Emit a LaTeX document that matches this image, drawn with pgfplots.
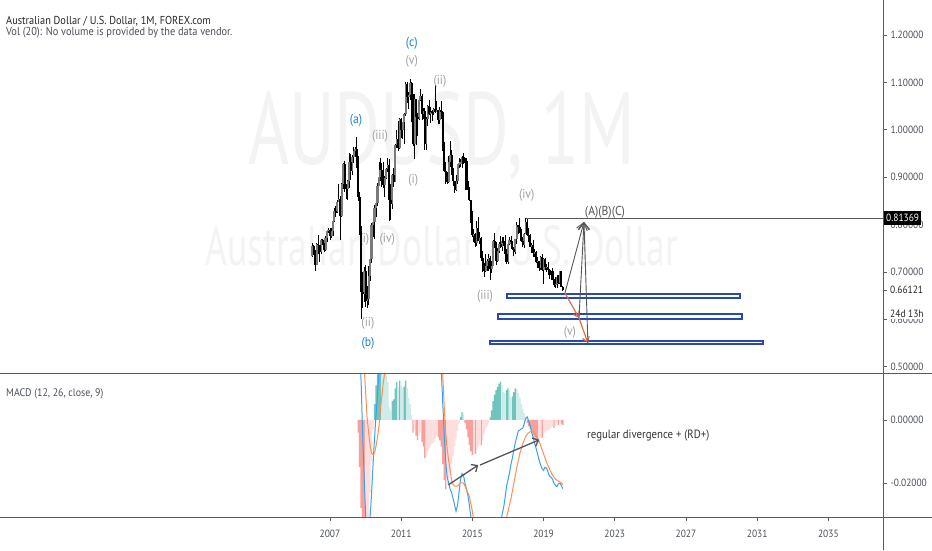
\documentclass[border=0pt]{standalone}
\usepackage{fontspec}
\setmainfont{PT Sans}[FakeStretch=0.9]
\usepackage{graphicx}
\usepackage{pgfplots}
\pgfplotsset{compat=1.18}
\usepackage{pgfplotstable}
\usetikzlibrary{arrows.meta}

\definecolor{tvline}{HTML}{5A5A5A}
\definecolor{tvtext}{HTML}{4A4F5A}
\definecolor{wm}{HTML}{F3F3F3}
\definecolor{wblue}{HTML}{1E7FCB}
\definecolor{wgrey}{HTML}{A0A0A0}
\definecolor{candup}{HTML}{7A7A7A}
\definecolor{boxb}{HTML}{2749B8}
\definecolor{arrg}{HTML}{555555}
\definecolor{arro}{HTML}{DC6E48}
\definecolor{hgup}{HTML}{6FC5BE}
\definecolor{hgupl}{HTML}{CFECE9}
\definecolor{hgdn}{HTML}{F5A09A}
\definecolor{hgdnl}{HTML}{FDDEDE}
\definecolor{macdc}{HTML}{3DA0EE}
\definecolor{sigc}{HTML}{FF8F50}

% monthly candles: time, open, high, low, close
\pgfplotstableread{
t o h l c
2006.000 0.7330 0.7620 0.7320 0.7555
2006.083 0.7555 0.7560 0.7350 0.7400
2006.167 0.7400 0.7470 0.7020 0.7155
2006.250 0.7155 0.7620 0.7150 0.7600
2006.333 0.7600 0.7790 0.7390 0.7565
2006.417 0.7565 0.7570 0.7220 0.7420
2006.500 0.7420 0.7690 0.7370 0.7665
2006.583 0.7665 0.7700 0.7560 0.7620
2006.667 0.7620 0.7690 0.7430 0.7460
2006.750 0.7460 0.7750 0.7440 0.7720
2006.833 0.7720 0.7895 0.7625 0.7870
2006.917 0.7870 0.7935 0.7830 0.7890
2007.000 0.7890 0.7920 0.7675 0.7750
2007.083 0.7750 0.7920 0.7710 0.7875
2007.167 0.7875 0.8110 0.7750 0.8080
2007.250 0.8080 0.8340 0.8060 0.8280
2007.333 0.8280 0.8390 0.8150 0.8260
2007.417 0.8260 0.8520 0.8240 0.8485
2007.500 0.8485 0.8860 0.8470 0.8540
2007.583 0.8540 0.8600 0.7680 0.8190
2007.667 0.8190 0.8880 0.8170 0.8860
2007.750 0.8860 0.9300 0.8750 0.9280
2007.833 0.9280 0.9350 0.8680 0.8820
2007.917 0.8820 0.8860 0.8530 0.8760
2008.000 0.8760 0.8950 0.8520 0.8930
2008.083 0.8930 0.9500 0.8780 0.9330
2008.167 0.9330 0.9480 0.8940 0.9130
2008.250 0.9130 0.9470 0.9040 0.9420
2008.333 0.9420 0.9640 0.9300 0.9560
2008.417 0.9560 0.9640 0.9430 0.9600
2008.500 0.9600 0.9850 0.9200 0.9400
2008.583 0.9400 0.9440 0.8500 0.8580
2008.667 0.8580 0.8690 0.7770 0.7900
2008.750 0.7900 0.7970 0.6010 0.6570
2008.833 0.6570 0.7010 0.6250 0.6530
2008.917 0.6530 0.7100 0.6370 0.7030
2009.000 0.7030 0.7150 0.6260 0.6380
2009.083 0.6380 0.6700 0.6250 0.6420
2009.167 0.6420 0.7130 0.6300 0.6920
2009.250 0.6920 0.7390 0.6820 0.7270
2009.333 0.7270 0.8030 0.7200 0.8000
2009.417 0.8000 0.8160 0.7740 0.8050
2009.500 0.8050 0.8410 0.7700 0.8350
2009.583 0.8350 0.8500 0.8160 0.8450
2009.667 0.8450 0.8870 0.8390 0.8820
2009.750 0.8820 0.9330 0.8810 0.9000
2009.833 0.9000 0.9400 0.8910 0.9150
2009.917 0.9150 0.9300 0.8800 0.8980
2010.000 0.8980 0.9330 0.8780 0.8840
2010.083 0.8840 0.9030 0.8580 0.8980
2010.167 0.8980 0.9200 0.8960 0.9170
2010.250 0.9170 0.9400 0.9110 0.9250
2010.333 0.9250 0.9380 0.8070 0.8510
2010.417 0.8510 0.8860 0.8090 0.8430
2010.500 0.8430 0.9060 0.8320 0.9050
2010.583 0.9050 0.9200 0.8790 0.8900
2010.667 0.8900 0.9710 0.8890 0.9670
2010.750 0.9670 1.0000 0.9620 0.9800
2010.833 0.9800 1.0180 0.9550 0.9620
2010.917 0.9620 1.0250 0.9600 1.0220
2011.000 1.0220 1.0250 0.9820 0.9990
2011.083 0.9990 1.0160 0.9800 1.0160
2011.167 1.0160 1.0350 0.9710 1.0340
2011.250 1.0340 1.1010 1.0290 1.0970
2011.333 1.0970 1.1010 1.0560 1.0700
2011.417 1.0700 1.0790 1.0430 1.0730
2011.500 1.0730 1.1080 1.0620 1.0990
2011.583 1.0990 1.1000 1.0160 1.0700
2011.667 1.0700 1.0760 0.9660 0.9700
2011.750 0.9700 1.0750 0.9390 1.0650
2011.833 1.0650 1.0650 0.9670 1.0260
2011.917 1.0260 1.0350 0.9860 1.0220
2012.000 1.0220 1.0720 1.0200 1.0620
2012.083 1.0620 1.0850 1.0600 1.0720
2012.167 1.0720 1.0750 1.0200 1.0340
2012.250 1.0340 1.0450 1.0230 1.0400
2012.333 1.0400 1.0450 0.9580 0.9690
2012.417 0.9690 1.0270 0.9580 1.0230
2012.500 1.0230 1.0520 1.0080 1.0510
2012.583 1.0510 1.0620 1.0310 1.0330
2012.667 1.0330 1.0480 1.0150 1.0380
2012.750 1.0380 1.0420 1.0180 1.0370
2012.833 1.0370 1.0470 1.0320 1.0430
2012.917 1.0430 1.0950 1.0350 1.0380
2013.000 1.0380 1.0600 1.0370 1.0420
2013.083 1.0420 1.0420 1.0120 1.0210
2013.167 1.0210 1.0490 1.0120 1.0410
2013.250 1.0410 1.0600 1.0220 1.0370
2013.333 1.0370 1.0400 0.9550 0.9570
2013.417 0.9570 0.9740 0.9110 0.9140
2013.500 0.9140 0.9310 0.8850 0.8990
2013.583 0.8990 0.9110 0.8850 0.8900
2013.667 0.8900 0.9450 0.8870 0.9320
2013.750 0.9320 0.9760 0.9210 0.9460
2013.833 0.9460 0.9580 0.9050 0.9110
2013.917 0.9110 0.9190 0.8820 0.8920
2014.000 0.8920 0.8930 0.8660 0.8740
2014.083 0.8740 0.9040 0.8700 0.8920
2014.167 0.8920 0.9280 0.8850 0.9270
2014.250 0.9270 0.9400 0.9200 0.9280
2014.333 0.9280 0.9380 0.9210 0.9310
2014.417 0.9310 0.9440 0.9200 0.9430
2014.500 0.9430 0.9500 0.9280 0.9290
2014.583 0.9290 0.9400 0.9240 0.9340
2014.667 0.9340 0.9400 0.8720 0.8740
2014.750 0.8740 0.8910 0.8640 0.8800
2014.833 0.8800 0.8800 0.8500 0.8510
2014.917 0.8510 0.8520 0.8040 0.8180
2015.000 0.8180 0.8290 0.7730 0.7770
2015.083 0.7770 0.7910 0.7630 0.7810
2015.167 0.7810 0.7830 0.7530 0.7620
2015.250 0.7620 0.8070 0.7540 0.7920
2015.333 0.7920 0.8160 0.7650 0.7660
2015.417 0.7660 0.7850 0.7600 0.7710
2015.500 0.7710 0.7740 0.7230 0.7300
2015.583 0.7300 0.7440 0.7000 0.7110
2015.667 0.7110 0.7180 0.6900 0.7020
2015.750 0.7020 0.7380 0.6990 0.7130
2015.833 0.7130 0.7280 0.7020 0.7230
2015.917 0.7230 0.7380 0.7020 0.7290
2016.000 0.7290 0.7330 0.6830 0.7070
2016.083 0.7070 0.7240 0.6970 0.7130
2016.167 0.7130 0.7680 0.7130 0.7660
2016.250 0.7660 0.7830 0.7500 0.7600
2016.333 0.7600 0.7640 0.7140 0.7230
2016.417 0.7230 0.7500 0.7210 0.7450
2016.500 0.7450 0.7640 0.7410 0.7600
2016.583 0.7600 0.7760 0.7510 0.7520
2016.667 0.7520 0.7730 0.7440 0.7650
2016.750 0.7650 0.7730 0.7550 0.7610
2016.833 0.7610 0.7780 0.7380 0.7390
2016.917 0.7390 0.7480 0.7160 0.7220
2017.000 0.7220 0.7600 0.7160 0.7580
2017.083 0.7580 0.7740 0.7560 0.7670
2017.167 0.7670 0.7750 0.7490 0.7630
2017.250 0.7630 0.7660 0.7470 0.7480
2017.333 0.7480 0.7520 0.7330 0.7430
2017.417 0.7430 0.7700 0.7370 0.7690
2017.500 0.7690 0.8060 0.7600 0.7990
2017.583 0.7990 0.8000 0.7810 0.7940
2017.667 0.7940 0.8130 0.7830 0.7840
2017.750 0.7840 0.7900 0.7630 0.7650
2017.833 0.7650 0.7730 0.7530 0.7560
2017.917 0.7560 0.7820 0.7500 0.7810
2018.000 0.7810 0.8136 0.7800 0.8060
2018.083 0.8060 0.8130 0.7760 0.7770
2018.167 0.7770 0.7920 0.7640 0.7680
2018.250 0.7680 0.7810 0.7520 0.7530
2018.333 0.7530 0.7610 0.7410 0.7560
2018.417 0.7560 0.7680 0.7310 0.7400
2018.500 0.7400 0.7480 0.7320 0.7420
2018.583 0.7420 0.7450 0.7200 0.7220
2018.667 0.7220 0.7310 0.7080 0.7230
2018.750 0.7230 0.7240 0.7020 0.7080
2018.833 0.7080 0.7340 0.7050 0.7310
2018.917 0.7310 0.7390 0.7020 0.7050
2019.000 0.7050 0.7300 0.6740 0.7270
2019.083 0.7270 0.7300 0.7050 0.7100
2019.167 0.7100 0.7170 0.7000 0.7100
2019.250 0.7100 0.7210 0.7030 0.7050
2019.333 0.7050 0.7070 0.6860 0.6940
2019.417 0.6940 0.7030 0.6830 0.7020
2019.500 0.7020 0.7080 0.6830 0.6840
2019.583 0.6840 0.6860 0.6680 0.6730
2019.667 0.6730 0.6890 0.6670 0.6750
2019.750 0.6750 0.6930 0.6670 0.6890
2019.833 0.6890 0.6930 0.6750 0.6760
2019.917 0.6760 0.7030 0.6750 0.7020
2020.000 0.7020 0.7030 0.6680 0.6690
2020.083 0.6690 0.6700 0.6590 0.6612
}\candles

% MACD histogram: time, value, colour class (1 up, 2 up fading, 3 down, 4 down fading)
\pgfplotstableread{
t h k
2008.583 -0.0040 3
2008.667 -0.0150 3
2008.750 -0.0280 3
2008.833 -0.0380 3
2008.917 -0.0420 3
2009.000 -0.0400 4
2009.083 -0.0360 4
2009.167 -0.0310 4
2009.250 -0.0230 4
2009.333 -0.0130 4
2009.417 -0.0030 4
2009.500 0.0050 1
2009.583 0.0110 1
2009.667 0.0160 1
2009.750 0.0200 1
2009.833 0.0220 1
2009.917 0.0210 2
2010.000 0.0200 2
2010.083 0.0180 2
2010.167 0.0160 2
2010.250 0.0120 2
2010.333 0.0040 2
2010.417 0.0030 2
2010.500 0.0060 1
2010.583 0.0065 1
2010.667 0.0100 1
2010.750 0.0120 1
2010.833 0.0105 2
2010.917 0.0125 1
2011.000 0.0110 2
2011.083 0.0100 2
2011.167 0.0105 1
2011.250 0.0125 1
2011.333 0.0100 2
2011.417 0.0070 2
2011.500 0.0050 2
2011.583 0.0015 2
2011.667 -0.0040 3
2011.750 -0.0030 4
2011.833 -0.0050 3
2011.917 -0.0063 3
2012.000 -0.0050 4
2012.083 -0.0040 4
2012.167 -0.0070 3
2012.250 -0.0085 3
2012.333 -0.0120 3
2012.417 -0.0115 4
2012.500 -0.0100 4
2012.583 -0.0090 4
2012.667 -0.0080 4
2012.750 -0.0075 4
2012.833 -0.0070 4
2012.917 -0.0060 4
2013.000 -0.0050 4
2013.083 -0.0055 3
2013.167 -0.0065 3
2013.250 -0.0085 3
2013.333 -0.0140 3
2013.417 -0.0190 3
2013.500 -0.0220 3
2013.583 -0.0205 4
2013.667 -0.0185 4
2013.750 -0.0165 4
2013.833 -0.0140 4
2013.917 -0.0115 4
2014.000 -0.0085 4
2014.083 -0.0060 4
2014.167 -0.0035 4
2014.250 -0.0012 4
2014.333 0.0010 1
2014.417 0.0025 1
2014.500 0.0020 2
2014.583 -0.0010 3
2014.667 -0.0030 3
2014.750 -0.0055 3
2014.833 -0.0080 3
2014.917 -0.0100 3
2015.000 -0.0112 3
2015.083 -0.0105 4
2015.167 -0.0108 3
2015.250 -0.0095 4
2015.333 -0.0085 4
2015.417 -0.0075 4
2015.500 -0.0080 3
2015.583 -0.0065 4
2015.667 -0.0045 4
2015.750 -0.0030 4
2015.833 -0.0020 4
2015.917 -0.0010 4
2016.000 0.0008 1
2016.083 0.0030 1
2016.167 0.0060 1
2016.250 0.0080 1
2016.333 0.0095 1
2016.417 0.0105 1
2016.500 0.0115 1
2016.583 0.0122 1
2016.667 0.0110 2
2016.750 0.0088 2
2016.833 0.0085 2
2016.917 0.0095 1
2017.000 0.0100 1
2017.083 0.0092 2
2017.167 0.0072 2
2017.250 0.0075 1
2017.333 0.0088 1
2017.417 0.0100 1
2017.500 0.0098 2
2017.583 0.0085 2
2017.667 0.0070 2
2017.750 0.0050 2
2017.833 0.0035 2
2017.917 0.0022 2
2018.000 0.0010 2
2018.083 -0.0010 3
2018.167 -0.0020 3
2018.250 -0.0030 3
2018.333 -0.0040 3
2018.417 -0.0048 3
2018.500 -0.0055 3
2018.583 -0.0060 3
2018.667 -0.0065 3
2018.750 -0.0060 4
2018.833 -0.0052 4
2018.917 -0.0056 3
2019.000 -0.0045 4
2019.083 -0.0040 4
2019.167 -0.0035 4
2019.250 -0.0032 4
2019.333 -0.0030 4
2019.417 -0.0025 4
2019.500 -0.0020 4
2019.583 -0.0025 3
2019.667 -0.0020 4
2019.750 -0.0012 4
2019.833 -0.0016 3
2019.917 -0.0010 4
2020.000 -0.0012 3
2020.083 -0.0016 3
}\hist

\pgfplotsset{
  tvaxis/.style={
    scale only axis, width=883pt,
    xmin=1988.46, xmax=2038.07,
    axis y line*=right,
    tick align=outside, major tick length=4pt,
    tick style={draw=tvline, line width=0.6pt},
    axis line style={draw=tvline, line width=0.8pt},
    ticklabel style={font=\fontsize{10.5}{12}\selectfont, text=tvtext},
    yticklabel style={anchor=west},
    scaled y ticks=false,
    unbounded coords=discard,
  },
}
\tikzset{wave/.style={font=\fontsize{13}{15}\selectfont, inner sep=0pt}}

\begin{document}
\begin{tikzpicture}[x=1pt,y=1pt]
\fill[white] (0,0) rectangle (932,550);
\path[use as bounding box] (0,0) rectangle (932,550);

% watermark
\node[anchor=base west, inner sep=0pt, text=wm] at (248,385)
  {\resizebox{387pt}{73pt}{AUDUSD, 1M}};
\node[anchor=base west, inner sep=0pt, text=wm] at (205,284)
  {\resizebox{473pt}{40pt}{Australian Dollar / U.S. Dollar}};

% price pane
\begin{axis}[tvaxis,
    at={(0pt,177pt)}, anchor=south west, height=373pt,
    ymin=0.4869, ymax=1.2738,
    axis x line=none,
    ytick={0.5,0.6,0.7,0.8,0.9,1.0,1.1,1.2},
    yticklabels={0.50000,0.60000,0.70000,0.80000,0.90000,1.00000,1.10000,1.20000},
  ]
  \node[wave, text=wgrey] at (axis cs:2008.93,0.769) {(i)};

  % wicks
  \addplot[draw=none, error bars/.cd, y dir=both, y explicit, error mark=none,
    error bar style={draw=black, line width=0.85pt}]
    table[x=t, y expr={(\thisrow{h}+\thisrow{l})/2},
      y error expr={(\thisrow{h}-\thisrow{l})/2}] {\candles};
  % bodies, rising months
  \addplot[draw=none, error bars/.cd, y dir=both, y explicit, error mark=none,
    error bar style={draw=candup, line width=2.1pt}]
    table[x=t, y expr={\thisrow{c}>=\thisrow{o} ? (\thisrow{o}+\thisrow{c})/2 : nan},
      y error expr={max(abs(\thisrow{c}-\thisrow{o})/2,0.0014)}] {\candles};
  % bodies, falling months
  \addplot[draw=none, error bars/.cd, y dir=both, y explicit, error mark=none,
    error bar style={draw=black, line width=2.1pt}]
    table[x=t, y expr={\thisrow{c}<\thisrow{o} ? (\thisrow{o}+\thisrow{c})/2 : nan},
      y error expr={max(abs(\thisrow{c}-\thisrow{o})/2,0.0014)}] {\candles};

  % level from the (iv) top
  \addplot[tvline, line width=0.8pt] coordinates {(2018.0,0.81369) (2038.07,0.81369)};

  % target zones
  \addplot[boxb, line width=1.2pt, fill=white] coordinates
    {(2016.94,0.6451) (2030.03,0.6451) (2030.03,0.6536) (2016.94,0.6536)} --cycle;
  \addplot[boxb, line width=1.2pt, fill=white] coordinates
    {(2016.44,0.6009) (2030.15,0.6009) (2030.15,0.6114) (2016.44,0.6114)} --cycle;
  \addplot[boxb, line width=1.2pt, fill=white] coordinates
    {(2015.99,0.5481) (2031.33,0.5481) (2031.33,0.5544) (2015.99,0.5544)} --cycle;

  % projection arrows
  \addplot[arro, line width=1.2pt, -{Straight Barb[length=5pt,width=7pt]}]
    coordinates {(2020.20,0.6557) (2020.99,0.6030)};
  \addplot[arro, line width=1.2pt, -{Straight Barb[length=5pt,width=7pt]}]
    coordinates {(2020.99,0.6030) (2021.49,0.5502)};
  \addplot[arrg, line width=0.9pt, -{Straight Barb[length=7pt,width=11pt]}]
    coordinates {(2020.20,0.6557) (2021.27,0.8055)};
  \addplot[arrg, line width=0.9pt, -{Straight Barb[length=7pt,width=11pt]}]
    coordinates {(2020.99,0.6030) (2021.27,0.8055)};
  \addplot[arrg, line width=0.9pt, -{Straight Barb[length=7pt,width=11pt]}]
    coordinates {(2021.49,0.5502) (2021.27,0.8055)};

  % wave labels
  \node[wave, text=wblue] at (axis cs:2011.59,1.1825) {(c)};
  \node[wave, text=wgrey] at (axis cs:2011.59,1.1437) {(v)};
  \node[wave, text=wgrey] at (axis cs:2013.18,1.1015) {(ii)};
  \node[wave, text=wblue] at (axis cs:2008.46,1.0207) {(a)};
  \node[wave, text=wgrey] at (axis cs:2009.81,0.9855) {(iii)};
  \node[wave, text=wgrey] at (axis cs:2011.68,0.8940) {(i)};
  \node[wave, text=wgrey] at (axis cs:2018.05,0.8624) {(iv)};
  \node[wave, text=wgrey] at (axis cs:2010.22,0.7690) {(iv)};
  \node[wave, text=wgrey] at (axis cs:2009.13,0.5918) {(ii)};
  \node[wave, text=wblue] at (axis cs:2009.13,0.5496) {(b)};
  \node[wave, text=wgrey] at (axis cs:2015.71,0.6480) {(iii)};
  \node[wave, text=wgrey] at (axis cs:2020.48,0.5720) {(v)};
  \node[wave, text=arrg] at (axis cs:2022.45,0.8250) {(A)(B)(C)};
\end{axis}

% MACD pane
\begin{axis}[tvaxis,
    at={(0pt,33pt)}, anchor=south west, height=144pt,
    ymin=-0.0308, ymax=0.0149,
    axis x line*=bottom,
    xtick={2007,2011,2015,2019,2023,2027,2031,2035},
    xticklabels={2007,2011,2015,2019,2023,2027,2031,2035},
    xticklabel style={yshift=-5pt},
    ytick={-0.02,0},
    yticklabels={-0.02000,0.00000},
  ]
  \addplot[ybar, bar width=0.075, bar shift=0pt, draw=none, fill=hgup]
    table[x=t, y expr={\thisrow{k}==1 ? \thisrow{h} : nan}] {\hist};
  \addplot[ybar, bar width=0.075, bar shift=0pt, draw=none, fill=hgupl]
    table[x=t, y expr={\thisrow{k}==2 ? \thisrow{h} : nan}] {\hist};
  \addplot[ybar, bar width=0.075, bar shift=0pt, draw=none, fill=hgdn]
    table[x=t, y expr={\thisrow{k}==3 ? \thisrow{h} : nan}] {\hist};
  \addplot[ybar, bar width=0.075, bar shift=0pt, draw=none, fill=hgdnl]
    table[x=t, y expr={\thisrow{k}==4 ? \thisrow{h} : nan}] {\hist};

  % MACD line
  \addplot[macdc, line width=1pt] coordinates {
    (2008.50,0.032) (2008.58,0.030) (2008.67,0.022) (2008.75,0.012)
    (2008.83,-0.004) (2008.92,-0.018) (2009.00,-0.030) (2009.08,-0.036)
    (2009.17,-0.036) (2009.25,-0.031) (2009.33,-0.024) (2009.42,-0.014)
    (2009.50,-0.006) (2009.58,0.001) (2009.67,0.008) (2009.75,0.015)
    (2009.83,0.022) (2009.92,0.027) (2010.25,0.035) (2011.00,0.045)
    (2011.50,0.055) (2012.00,0.045) (2012.50,0.035) (2013.00,0.030)
    (2013.17,0.025) (2013.25,0.016) (2013.33,0.006) (2013.42,-0.005)
    (2013.50,-0.013) (2013.58,-0.018) (2013.67,-0.020) (2013.75,-0.022)
    (2013.83,-0.023) (2013.92,-0.025) (2014.00,-0.027) (2014.08,-0.029)
    (2014.17,-0.027) (2014.25,-0.023) (2014.33,-0.019) (2014.42,-0.017)
    (2014.50,-0.0175) (2014.58,-0.020) (2014.67,-0.022) (2014.75,-0.024)
    (2014.83,-0.027) (2014.92,-0.031) (2015.00,-0.036) (2015.50,-0.050)
    (2016.00,-0.052) (2016.33,-0.043) (2016.50,-0.036) (2016.67,-0.030)
    (2016.75,-0.028) (2016.83,-0.025) (2016.92,-0.021) (2017.00,-0.019)
    (2017.08,-0.017) (2017.17,-0.014) (2017.25,-0.012) (2017.33,-0.0095)
    (2017.42,-0.007) (2017.50,-0.0052) (2017.58,-0.0035) (2017.67,-0.0032)
    (2017.75,-0.0028) (2017.83,-0.0026) (2017.92,-0.001) (2018.00,0.0005)
    (2018.08,0.0010) (2018.17,-0.0005) (2018.25,-0.0018) (2018.33,-0.0040)
    (2018.42,-0.0055) (2018.50,-0.0075) (2018.58,-0.0090) (2018.67,-0.0110)
    (2018.75,-0.0128) (2018.83,-0.0142) (2018.92,-0.0155) (2019.00,-0.0160)
    (2019.08,-0.0150) (2019.17,-0.0153) (2019.25,-0.0165) (2019.33,-0.0178)
    (2019.42,-0.0182) (2019.50,-0.0188) (2019.58,-0.0200) (2019.67,-0.0208)
    (2019.75,-0.0212) (2019.83,-0.0203) (2019.92,-0.0200) (2020.00,-0.0208)
    (2020.08,-0.0218)};
  % signal line
  \addplot[sigc, line width=1pt] coordinates {
    (2008.58,0.036) (2008.67,0.033) (2008.75,0.029) (2008.83,0.023)
    (2008.92,0.017) (2009.00,0.009) (2009.08,0.001) (2009.17,-0.004)
    (2009.25,-0.008) (2009.33,-0.0105) (2009.42,-0.011) (2009.50,-0.0105)
    (2009.58,-0.0085) (2009.67,-0.0055) (2009.75,-0.002) (2009.83,0.003)
    (2009.92,0.008) (2010.00,0.012) (2010.08,0.015) (2010.17,0.019)
    (2010.50,0.028) (2011.00,0.038) (2011.50,0.050) (2012.00,0.048)
    (2012.50,0.040) (2013.00,0.033) (2013.25,0.024) (2013.33,0.015)
    (2013.42,0.004) (2013.50,-0.004) (2013.58,-0.009) (2013.67,-0.013)
    (2013.75,-0.016) (2013.83,-0.019) (2013.92,-0.0205) (2014.00,-0.021)
    (2014.17,-0.021) (2014.33,-0.020) (2014.50,-0.020) (2014.67,-0.022)
    (2014.83,-0.0243) (2015.00,-0.029) (2015.08,-0.032) (2015.50,-0.045)
    (2016.00,-0.051) (2016.50,-0.044) (2016.75,-0.036) (2016.92,-0.031)
    (2017.00,-0.029) (2017.17,-0.025) (2017.33,-0.020) (2017.50,-0.015)
    (2017.67,-0.0106) (2017.83,-0.0075) (2018.00,-0.0052) (2018.08,-0.0045)
    (2018.25,-0.0037) (2018.42,-0.0037) (2018.58,-0.0050) (2018.75,-0.0068)
    (2018.92,-0.0095) (2019.00,-0.0108) (2019.17,-0.0135) (2019.33,-0.0155)
    (2019.50,-0.0175) (2019.67,-0.0188) (2019.83,-0.0194) (2020.00,-0.0200)
    (2020.08,-0.0206)};

  % divergence arrows
  \addplot[arrg, line width=1.3pt, -{Straight Barb[length=5pt,width=9pt]}]
    coordinates {(2013.65,-0.0206) (2015.33,-0.0143)};
  \addplot[arrg, line width=1.3pt, -{Straight Barb[length=5pt,width=9pt]}]
    coordinates {(2015.43,-0.0143) (2018.76,-0.0063)};
  \node[anchor=west, inner sep=0pt, text=black!80, font=\fontsize{12}{14}\selectfont]
    at (axis cs:2021.44,-0.0048) {regular divergence + (RD+)};
\end{axis}

% pane borders
\draw[tvline, line width=0.8pt] (0,177) -- (932,177);
\draw[tvline, line width=0.8pt] (0,33) -- (932,33);
\draw[tvline, line width=0.8pt] (883,0) -- (883,550);

% price scale markers
\node[anchor=west, fill=black, text=white, inner xsep=2pt, inner ysep=2.8pt,
  font=\fontsize{10.5}{12}\selectfont] at (884,332) {0.81369};
\draw[tvline, line width=0.6pt] (883,260) -- (887,260);
\node[anchor=west, inner sep=0pt, text=black!85, font=\fontsize{10.5}{12}\selectfont]
  at (890,260) {0.66121};
\node[anchor=west, fill=white, inner xsep=1pt, inner ysep=1.5pt, text=black!85,
  font=\fontsize{10.5}{12}\selectfont] at (889,236) {24d 13h};

% titles
\node[anchor=west, inner sep=0pt, text=black!85, font=\fontsize{11.5}{13}\selectfont]
  at (6,529) {Australian Dollar / U.S. Dollar, 1M, FOREX.com};
\node[anchor=west, inner sep=0pt, text=tvtext, font=\fontsize{11.5}{13}\selectfont]
  at (6,517) {Vol (20): No volume is provided by the data vendor.};
\node[anchor=west, inner sep=0pt, text=tvtext, font=\fontsize{11}{13}\selectfont]
  at (6,156) {MACD (12, 26, close, 9)};
\end{tikzpicture}
\end{document}
